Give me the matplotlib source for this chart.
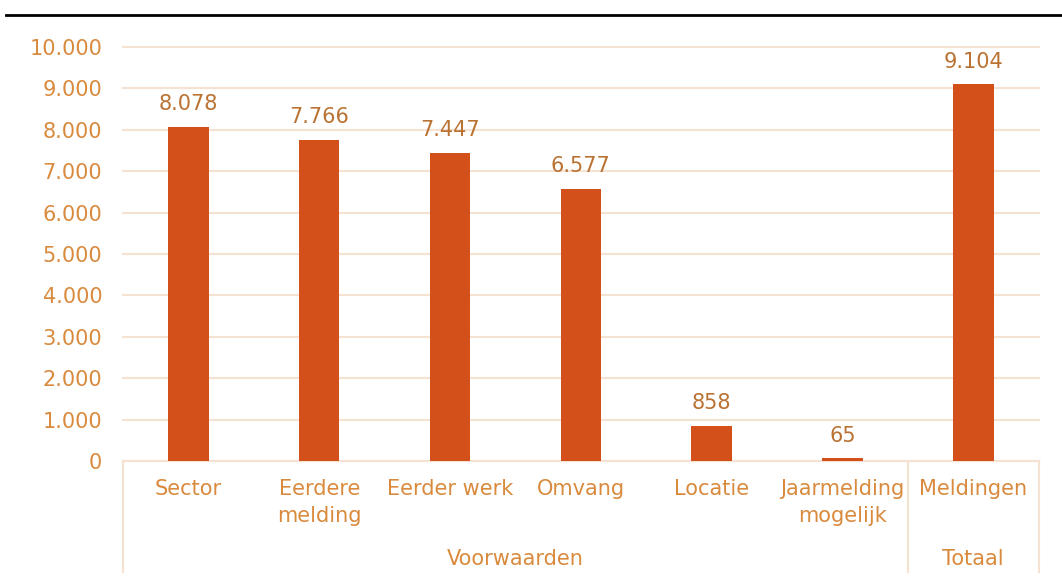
import matplotlib
matplotlib.use("Agg")
import matplotlib.pyplot as plt
from matplotlib.lines import Line2D
from matplotlib.ticker import FuncFormatter
import matplotlib.transforms as mtransforms

# --- data ---
categories = ["Sector", "Eerdere\nmelding", "Eerder werk", "Omvang",
              "Locatie", "Jaarmelding\nmogelijk", "Meldingen"]
values = [8078, 7766, 7447, 6577, 858, 65, 9104]
groups = ["Voorwaarden", "Totaal"]
group_sizes = [6, 1]

# --- style ---
bar_color = "#D4501A"
tick_color = "#D98A3D"
label_color = "#B97232"
grid_color = "#F5E2D1"

plt.rcParams["font.family"] = "DejaVu Sans"


def dots(v, pos=None):
    return f"{int(v):,}".replace(",", ".")


fig = plt.figure(figsize=(10.62, 5.81), dpi=100)
ax = fig.add_axes([0.1158, 0.2065, 0.978 - 0.1158, 0.919 - 0.2065])

x = list(range(len(categories)))
bars = ax.bar(x, values, width=0.31, color=bar_color, zorder=3)
ax.bar_label(bars, labels=[dots(v) for v in values], padding=9,
             color=label_color, fontsize=15)

ax.set_xlim(-0.5, len(categories) - 0.5)
ax.set_ylim(0, 10000)
ax.set_yticks(range(0, 10001, 1000))
ax.yaxis.set_major_formatter(FuncFormatter(dots))
ax.grid(axis="y", color=grid_color, linewidth=1.5, zorder=0)
for gl in ax.get_ygridlines():
    gl.set_clip_on(False)
ax.set_axisbelow(True)

for s in ["top", "right", "left"]:
    ax.spines[s].set_visible(False)
ax.spines["bottom"].set_color(grid_color)
ax.spines["bottom"].set_linewidth(1.5)

ax.set_xticks(x)
ax.set_xticklabels(categories, color=tick_color, fontsize=15, linespacing=1.45)
ax.tick_params(axis="x", length=0, pad=13)
ax.tick_params(axis="y", length=0, pad=15, labelcolor=tick_color, labelsize=15)

# group separators and labels below the axis
trans = mtransforms.blended_transform_factory(ax.transData, ax.transAxes)
bounds = [-0.5]
for size in group_sizes:
    bounds.append(bounds[-1] + size)
for b in bounds:
    ax.add_line(Line2D([b, b], [0, -0.268], transform=trans, color=grid_color,
                       linewidth=1.5, clip_on=False))
for g, lo, hi in zip(groups, bounds[:-1], bounds[1:]):
    ax.text((lo + hi) / 2, -0.236, g, transform=trans, ha="center", va="center",
            color=tick_color, fontsize=15)

# black rule at the top
fig.add_artist(Line2D([0.0056, 1.0], [0.974, 0.974], color="black", linewidth=2))

fig.savefig("out.png", dpi=100)
